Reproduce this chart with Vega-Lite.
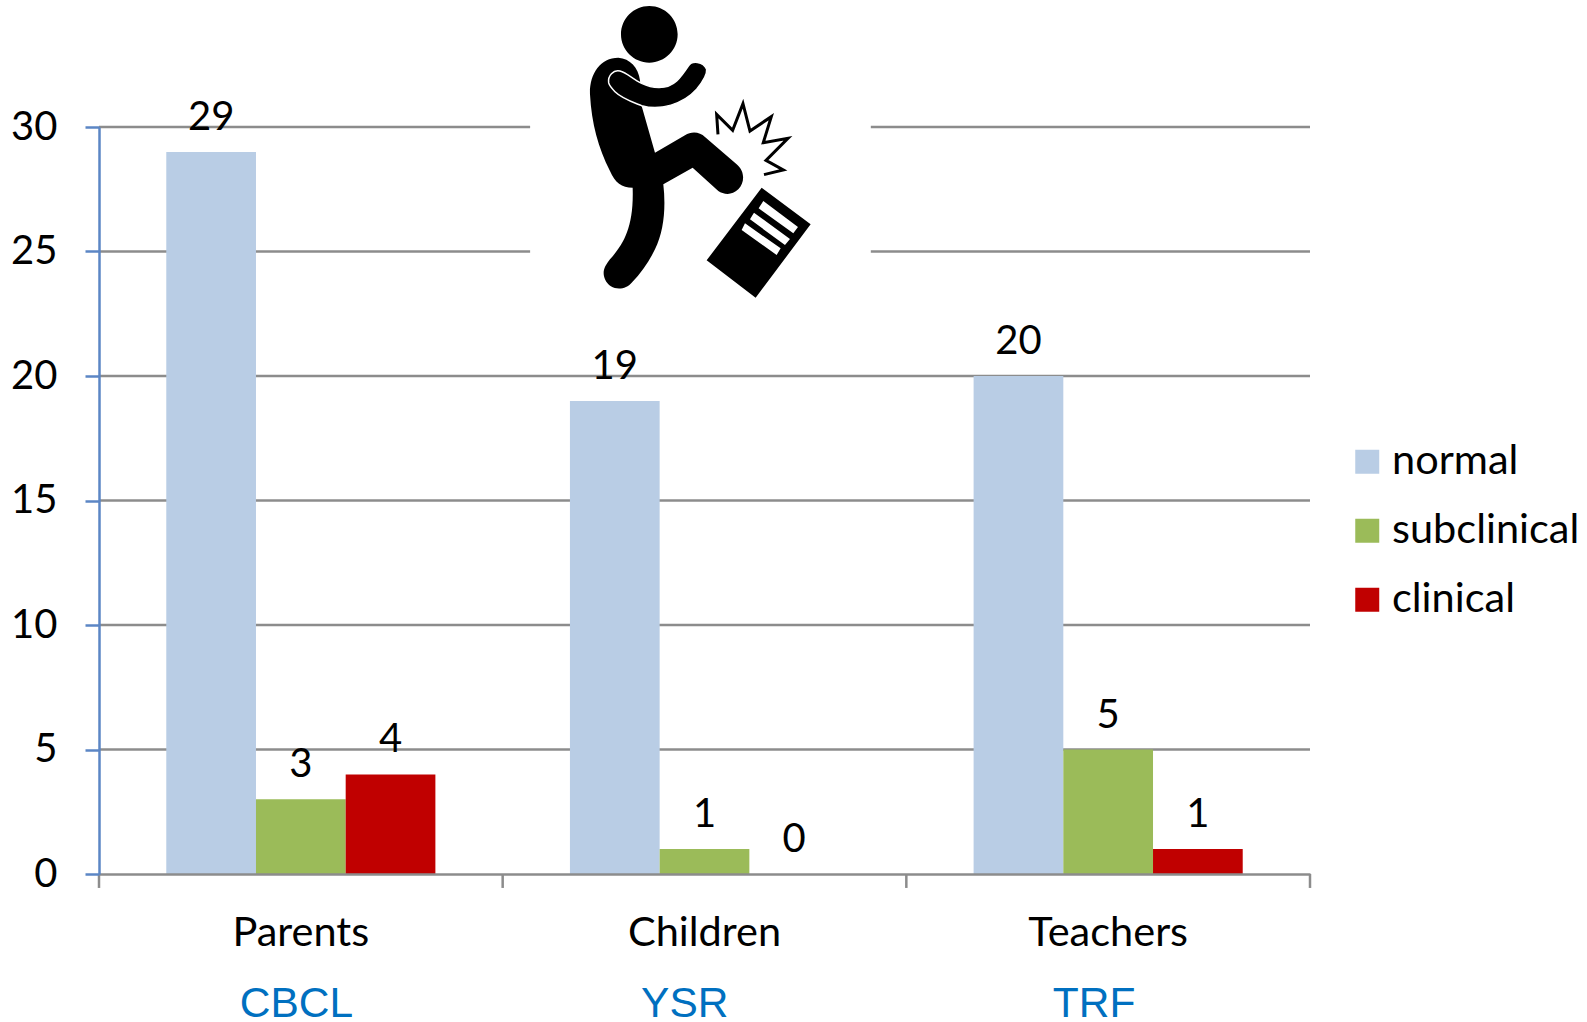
{"$schema":"https://vega.github.io/schema/vega-lite/v6.json","width":1211,"height":747,"autosize":"none","padding":{"left":99,"top":127,"right":277,"bottom":148},"background":"white","view":{"stroke":null},"datasets":{"counts":[{"informant":"Parents","status":"normal","count":29},{"informant":"Parents","status":"subclinical","count":3},{"informant":"Parents","status":"clinical","count":4},{"informant":"Children","status":"normal","count":19},{"informant":"Children","status":"subclinical","count":1},{"informant":"Children","status":"clinical","count":0},{"informant":"Teachers","status":"normal","count":20},{"informant":"Teachers","status":"subclinical","count":5},{"informant":"Teachers","status":"clinical","count":1}],"decor":[{"id":1}]},"resolve":{"scale":{"x":"independent","xOffset":"independent"}},"layer":[{"data":{"values":[{"level":5},{"level":10},{"level":15},{"level":20}]},"mark":{"type":"rule","color":"#8C8C8C","strokeWidth":2.5},"encoding":{"y":{"field":"level","type":"quantitative","scale":{"domain":[0,30],"nice":false},"axis":{"title":null,"values":[0,5,10,15,20,25,30],"grid":false,"domainColor":"#5B86C5","domainWidth":2.5,"tickColor":"#5B86C5","tickWidth":2.5,"tickSize":14,"labelPadding":28,"labelFont":"Lato","labelFontSize":40,"labelColor":"#000000","zindex":1}},"x":{"datum":0,"type":"quantitative","scale":{"domain":[0,3]},"axis":null},"x2":{"datum":3}}},{"data":{"values":[{"level":25},{"level":30}]},"mark":{"type":"rule","color":"#8C8C8C","strokeWidth":2.5},"encoding":{"y":{"field":"level","type":"quantitative"},"x":{"datum":0,"type":"quantitative","scale":{"domain":[0,3]},"axis":null},"x2":{"datum":1.068}}},{"data":{"values":[{"level":25},{"level":30}]},"mark":{"type":"rule","color":"#8C8C8C","strokeWidth":2.5},"encoding":{"y":{"field":"level","type":"quantitative"},"x":{"datum":1.912,"type":"quantitative","scale":{"domain":[0,3]},"axis":null},"x2":{"datum":3}}},{"data":{"values":[{"edge":0},{"edge":1},{"edge":2},{"edge":3}]},"mark":{"type":"rule","color":"#8C8C8C","strokeWidth":2.5},"encoding":{"x":{"field":"edge","type":"quantitative","scale":{"domain":[0,3]},"axis":null},"y":{"datum":0,"type":"quantitative"},"y2":{"datum":-0.56}}},{"data":{"name":"counts"},"mark":{"type":"bar"},"encoding":{"x":{"field":"informant","type":"nominal","sort":["Parents","Children","Teachers"],"scale":{"paddingInner":0,"paddingOuter":0},"axis":{"title":null,"labelAngle":0,"ticks":false,"domainColor":"#8C8C8C","domainWidth":2.5,"labelPadding":38,"labelFont":"Lato","labelFontSize":41.5,"labelColor":"#000000","labelBaseline":"top","zindex":1}},"xOffset":{"field":"status","type":"nominal","sort":["normal","subclinical","clinical"],"scale":{"paddingInner":0,"paddingOuter":0.75}},"y":{"field":"count","type":"quantitative"},"color":{"field":"status","type":"nominal","sort":["normal","subclinical","clinical"],"scale":{"domain":["normal","subclinical","clinical"],"range":["#B9CDE5","#9BBB59","#C00000"]},"legend":{"title":null,"orient":"none","legendX":1247.5,"legendY":314,"symbolType":"square","symbolSize":576,"symbolStrokeWidth":0,"symbolOpacity":1,"rowPadding":26,"labelFont":"Lato","labelFontSize":41.5,"labelColor":"#000000","labelOffset":4,"labelLimit":300}}}},{"data":{"name":"counts"},"mark":{"type":"text","font":"Lato","fontSize":40,"color":"#000000","baseline":"middle","dy":-34},"encoding":{"x":{"field":"informant","type":"nominal","sort":["Parents","Children","Teachers"],"scale":{"paddingInner":0,"paddingOuter":0},"axis":null},"xOffset":{"field":"status","type":"nominal","sort":["normal","subclinical","clinical"],"scale":{"type":"band","paddingInner":0,"paddingOuter":0.75}},"y":{"field":"count","type":"quantitative"},"text":{"field":"count","type":"quantitative"}}},{"data":{"values":[{"instrument":"CBCL","at":0.489},{"instrument":"YSR","at":1.451},{"instrument":"TRF","at":2.465}]},"mark":{"type":"text","font":"Liberation Sans","fontSize":42.5,"color":"#0070C0","baseline":"alphabetic"},"encoding":{"x":{"field":"at","type":"quantitative","scale":{"domain":[0,3]},"axis":null},"y":{"datum":-5.76,"type":"quantitative"},"text":{"field":"instrument","type":"nominal"}}},{"data":{"name":"decor"},"mark":{"type":"point","filled":true,"opacity":1,"color":"#000000","size":0.4444,"shape":"M183,100C183,53 221,15 268,15C315,15 353,53 353,100C353,147 315,185 268,185C221,185 183,147 183,100Z M175,170C210,172 235,200 240,238L245,315L285,455L375,403C395,390 420,393 435,408L530,490C555,510 555,545 535,565C515,585 490,580 475,570L398,500L310,550C318,620 312,690 285,745C268,780 245,815 215,845C195,870 150,870 135,835C125,810 135,795 150,775C190,730 222,680 218,560C185,560 165,545 150,510C115,440 95,370 90,280C88,220 120,170 175,170Z M605,560L752,670L587,890L440,778Z"},"encoding":{"x":{"datum":1.142,"type":"quantitative","scale":{"domain":[0,3]},"axis":null},"y":{"datum":35.06,"type":"quantitative"}}},{"data":{"name":"decor"},"mark":{"type":"point","filled":true,"opacity":1,"color":"#FFFFFF","size":0.4444,"shape":"M610,600L714,678L700,697L596,622Z M582,635L690,714L675,732L570,655Z M555,667L662,742L650,762L545,687Z"},"encoding":{"x":{"datum":1.142,"type":"quantitative","scale":{"domain":[0,3]},"axis":null},"y":{"datum":35.06,"type":"quantitative"}}},{"data":{"name":"decor"},"mark":{"type":"point","filled":true,"opacity":1,"fill":"#000000","stroke":"#FFFFFF","strokeWidth":1.5,"size":0.4444,"shape":"M180,210C200,215 220,235 245,247C275,262 320,268 350,240C362,228 375,210 385,195C395,178 430,180 440,205C442,220 430,240 410,265C370,310 300,330 245,314C215,302 185,292 165,272C155,262 148,255 146,245C143,225 160,205 180,210Z"},"encoding":{"x":{"datum":1.142,"type":"quantitative","scale":{"domain":[0,3]},"axis":null},"y":{"datum":35.06,"type":"quantitative"}}},{"data":{"name":"decor"},"mark":{"type":"point","filled":false,"opacity":1,"stroke":"#000000","strokeWidth":3,"size":0.4444,"shape":"M474,400L470,340L518,388L549,308L570,390L634,347L610,425L684,412L618,478L670,507L612,521"},"encoding":{"x":{"datum":1.142,"type":"quantitative","scale":{"domain":[0,3]},"axis":null},"y":{"datum":35.06,"type":"quantitative"}}}]}
